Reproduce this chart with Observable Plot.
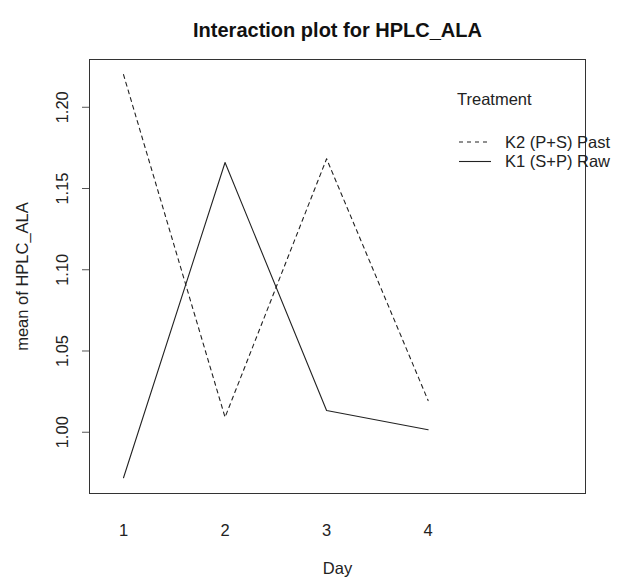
<!DOCTYPE html>
<html>
<head>
<meta charset="utf-8">
<script src="https://cdn.jsdelivr.net/npm/d3@7"></script>
<script src="https://cdn.jsdelivr.net/npm/@observablehq/plot@0.6"></script>
<style>
  html, body { margin: 0; padding: 0; background: #fff; }
  #wrap { position: relative; width: 635px; height: 582px; font-family: "Liberation Sans", Arial, Helvetica, sans-serif; }
  #wrap svg { display: block; }
  #legend { position: absolute; left: 0; top: 0; }
</style>
</head>
<body>
<div id="wrap"></div>
<script>
const title = "Interaction plot for HPLC_ALA";
const xLabel = "Day";
const yLabel = "mean of HPLC_ALA";
const legendTitle = "Treatment";
const days = [1, 2, 3, 4];
const treatments = ["K2 (P+S) Past", "K1 (S+P) Raw"];
const k2Past = [1.2201, 1.0092, 1.1683, 1.0195];
const k1Raw = [0.9720, 1.1660, 1.0134, 1.0015];
const yTicks = [1.00, 1.05, 1.10, 1.15, 1.20];

const seriesValues = [k2Past, k1Raw];
const dashes = ["4,4", null];
const rows = treatments.flatMap((t, i) => days.map((d, j) => ({treatment: t, day: d, value: seriesValues[i][j]})));

const ink = "#222";
const font = "\"Liberation Sans\", Arial, Helvetica, sans-serif";
const fs = 16.5;

const plot = Plot.plot({
  width: 635,
  height: 582,
  marginLeft: 89,
  marginRight: 50,
  marginTop: 59,
  marginBottom: 89,
  style: {fontFamily: font, fontSize: fs + "px", color: ink, background: "#fff"},
  x: {type: "linear", domain: [0.665, 5.55], axis: null},
  y: {type: "linear", domain: [0.9623, 1.2294], axis: null},
  marks: [
    Plot.frame({stroke: "#333", strokeWidth: 1}),
    Plot.axisY(yTicks, {anchor: "left", tickSize: 7, tickFormat: () => "", stroke: "#555", label: null}),
    Plot.text(yTicks, {y: d => d, frameAnchor: "left", dx: -27, rotate: -90, textAnchor: "middle", lineAnchor: "middle", text: d => d.toFixed(2), fill: ink, fontSize: fs}),
    Plot.text(days, {x: d => d, frameAnchor: "bottom", dy: 37, textAnchor: "middle", lineAnchor: "middle", text: d => String(d), fill: ink, fontSize: fs}),
    Plot.text([xLabel], {frameAnchor: "bottom", dy: 75, textAnchor: "middle", lineAnchor: "middle", text: d => d, fill: ink, fontSize: fs}),
    Plot.text([yLabel], {frameAnchor: "left", dx: -67, rotate: -90, textAnchor: "middle", lineAnchor: "middle", text: d => d, fill: ink, fontSize: fs}),
    Plot.text([title], {frameAnchor: "top", dy: -29, textAnchor: "middle", lineAnchor: "middle", text: d => d, fill: "#111", fontSize: 20, fontWeight: "bold"}),
    ...treatments.map((t, i) => Plot.line(rows.filter(r => r.treatment === t), {
      x: "day", y: "value", stroke: ink, strokeWidth: 1.1, strokeDasharray: dashes[i]
    }))
  ]
});

const wrap = document.getElementById("wrap");
wrap.appendChild(plot);

// Legend overlay (R-style, partly overlapping the plot box)
const lg = d3.select(wrap).append("svg")
  .attr("id", "legend").attr("width", 635).attr("height", 582)
  .style("font-family", font).style("font-size", fs + "px");
lg.append("text").attr("x", 457).attr("y", 99).attr("dy", "0.35em").attr("fill", ink).text(legendTitle);
treatments.forEach((t, i) => {
  const y = 142 + i * 19.5;
  lg.append("line").attr("x1", 459).attr("x2", 491).attr("y1", y).attr("y2", y)
    .attr("stroke", ink).attr("stroke-width", 1.1).attr("stroke-dasharray", dashes[i]);
  lg.append("text").attr("x", 505).attr("y", y).attr("dy", "0.35em").attr("fill", ink).text(t);
});
</script>
</body>
</html>
